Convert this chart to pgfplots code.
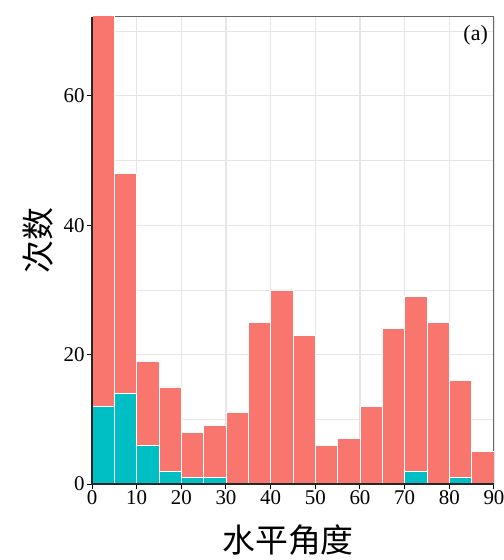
\documentclass[border=0pt]{standalone}
\usepackage{pgfplots}
\pgfplotsset{compat=1.18}
\usepackage{fontspec}
\setmainfont{Liberation Serif}
\newfontfamily\cjk{Noto Sans CJK SC}
\definecolor{ggred}{HTML}{F8766D}
\definecolor{ggteal}{HTML}{00BFC4}
\definecolor{gridc}{HTML}{E6E6E6}
\begin{document}
\begin{tikzpicture}
\begin{axis}[
  scale only axis,
  width=402bp, height=467bp,
  xmin=0, xmax=90, ymin=0, ymax=72.2,
  ybar stacked, bar width=5,
  xtick={0,10,...,90},
  ytick={0,20,40,60},
  minor ytick={10,30,50,70},
  grid=both,
  major grid style={draw=gridc, line width=1.1bp},
  minor grid style={draw=gridc, line width=0.8bp},
  xtick pos=bottom, ytick pos=left,
  tick align=outside,
  major tick length=5bp, minor tick length=0pt,
  tick style={black, line width=1bp},
  axis line style={draw=black!60, line width=1bp},
  /pgf/number format/assume math mode=true,
  ticklabel style={font=\fontsize{21}{24}\selectfont},
  xticklabel style={yshift=2bp},
  yticklabel style={xshift=1bp},
  every axis plot/.append style={draw=white, line width=0.9bp},
]
\addplot[fill=ggteal, draw=white] coordinates {
(2.5,12) (7.5,14) (12.5,6) (17.5,2) (22.5,1) (27.5,1) (32.5,0) (37.5,0) (42.5,0)
(47.5,0) (52.5,0) (57.5,0) (62.5,0) (67.5,0) (72.5,2) (77.5,0) (82.5,1) (87.5,0)};
\addplot[fill=ggred, draw=white] coordinates {
(2.5,61) (7.5,34) (12.5,13) (17.5,13) (22.5,7) (27.5,8) (32.5,11) (37.5,25) (42.5,30)
(47.5,23) (52.5,6) (57.5,7) (62.5,12) (67.5,24) (72.5,27) (77.5,25) (82.5,15) (87.5,5)};
\end{axis}
\draw[black!85, line width=1.1bp] (0,467bp) -- (0,0) -- (402bp,0);
\node[anchor=north east, inner sep=0pt, font=\fontsize{22}{26}\selectfont] at (396bp,459bp) {(a)};
\node[rotate=90, inner sep=0pt, font=\cjk\fontsize{33}{36}\selectfont] at (-54bp,243bp) {次数};
\node[inner sep=0pt, font=\cjk\fontsize{33}{36}\selectfont] at (196bp,-56bp) {水平角度};
\pgfresetboundingbox
\path[use as bounding box] (-92bp,-76bp) rectangle (412bp,484bp);
\end{tikzpicture}
\end{document}
